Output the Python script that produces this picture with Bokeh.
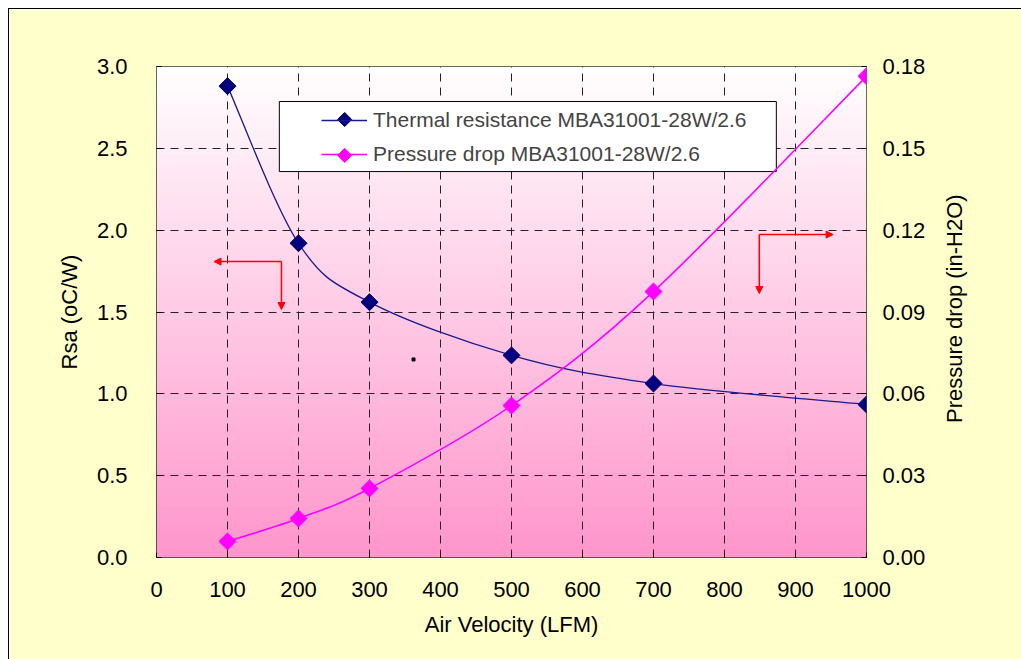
import math
import numpy as np
from bokeh.plotting import figure
from bokeh.models import (LinearAxis, Range1d, FixedTicker, Legend, LegendItem,
                          Arrow, NormalHead, ColumnDataSource, CustomJSTickFormatter)
from bokeh.embed import file_html
from bokeh.resources import INLINE

# ---- data ----
velocity = [100, 200, 300, 500, 700, 1000]
thermal_resistance = [2.88, 1.92, 1.56, 1.235, 1.063, 0.935]
pressure_drop = [0.0059, 0.0143, 0.0253, 0.0557, 0.0975, 0.1764]
x_ticks = [0, 100, 200, 300, 400, 500, 600, 700, 800, 900, 1000]
y_ticks = [0.0, 0.5, 1.0, 1.5, 2.0, 2.5, 3.0]
y2_ticks = [0.00, 0.03, 0.06, 0.09, 0.12, 0.15, 0.18]
label_thermal = "Thermal resistance MBA31001-28W/2.6"
label_pressure = "Pressure drop MBA31001-28W/2.6"
label_y2 = "Pressure drop (in-H2O)"
# annotation arrows (data coords of left axis): corner point, horizontal end, vertical end
arrow_left = dict(cx=176, cy=1.808, hx=81, vy=1.515)
arrow_right = dict(cx=849, cy=1.973, hx=953, vy=1.613)
stray_dot = (362, 1.21)
# legend box and legend key markers (data coords of left axis)
legend_box = dict(left=173, right=873, top=2.786, bottom=2.358)
legend_key_x = 265
legend_key_y = [2.676, 2.457]

FONT = "Liberation Sans"
Y2_MAX = 0.18
Y_MAX = 3.0


def bezier_segments(xs, ys):
    """Excel-like smoothed line as cubic bezier control points."""
    n = len(xs)
    P = list(zip(xs, ys))
    out = {k: [] for k in ["x0", "y0", "x1", "y1", "cx0", "cy0", "cx1", "cy1"]}
    for i in range(n - 1):
        pm = P[i - 1] if i > 0 else P[i]
        p0 = P[i]
        p1 = P[i + 1]
        pp = P[i + 2] if i + 2 < n else P[i + 1]
        c0 = (p0[0] + (p1[0] - pm[0]) / 6, p0[1] + (p1[1] - pm[1]) / 6)
        c1 = (p1[0] - (pp[0] - p0[0]) / 6, p1[1] - (pp[1] - p0[1]) / 6)
        out["x0"].append(p0[0]); out["y0"].append(p0[1])
        out["x1"].append(p1[0]); out["y1"].append(p1[1])
        out["cx0"].append(c0[0]); out["cy0"].append(c0[1])
        out["cx1"].append(c1[0]); out["cy1"].append(c1[1])
    return out


p = figure(width=1013, height=651, output_backend="svg", toolbar_location=None,
           x_range=Range1d(0, 1000), y_range=Range1d(0, Y_MAX),
           min_border_left=147, min_border_right=156, min_border_top=57,
           min_border_bottom=103)
p.styles = {"border-top": "1px solid black", "border-left": "1px solid black",
            "margin-left": "8px", "margin-top": "8px"}
p.border_fill_color = "#FFFFCC"
p.background_fill_color = "#FFFFFF"
p.outline_line_color = "#333333"
p.outline_line_width = 1

# gradient background
N = 256
t = np.linspace(0, 1, N)  # 0 at bottom
top = np.array([255, 255, 255])
bot = np.array([255, 150, 204])
cols = (bot[None, :] * (1 - t[:, None]) + top[None, :] * t[:, None]).astype(np.uint32)
img = np.zeros((N, 1), dtype=np.uint32)
view = img.view(dtype=np.uint8).reshape((N, 1, 4))
view[:, 0, 0] = cols[:, 0]
view[:, 0, 1] = cols[:, 1]
view[:, 0, 2] = cols[:, 2]
view[:, 0, 3] = 255
p.image_rgba(image=[img], x=0, y=0, dw=1000, dh=Y_MAX, level="image")

# axes
p.extra_y_ranges = {"y2": Range1d(0, Y2_MAX)}
ax2 = LinearAxis(y_range_name="y2")
p.add_layout(ax2, "right")

for ax in [p.xaxis[0], p.yaxis[0], ax2]:
    ax.major_tick_in = 5
    ax.major_tick_out = 0
    ax.minor_tick_line_color = None
    ax.major_label_text_font = FONT
    ax.major_label_text_font_size = "22px"
    ax.major_label_text_color = "black"
    ax.axis_label_text_font = FONT
    ax.axis_label_text_font_size = "22px"
    ax.axis_label_text_font_style = "normal"
    ax.axis_label_text_color = "black"
    ax.axis_line_color = None
    ax.major_tick_line_color = "black"

p.xaxis.ticker = FixedTicker(ticks=x_ticks)
p.yaxis[0].ticker = FixedTicker(ticks=y_ticks)
ax2.ticker = FixedTicker(ticks=y2_ticks)
p.xaxis.axis_label = "Air Velocity (LFM)"
p.yaxis[0].axis_label = "Rsa (oC/W)"
p.yaxis[0].formatter = CustomJSTickFormatter(code="return tick.toFixed(1);")
ax2.formatter = CustomJSTickFormatter(code="return tick.toFixed(2);")
p.xaxis.major_label_standoff = 24
p.yaxis[0].major_label_standoff = 29
ax2.major_label_standoff = 16
p.xaxis.axis_label_standoff = 12
p.yaxis[0].axis_label_standoff = 12

# right axis title (reads bottom-to-top), carried by a tick-less axis;
# the rotated label is start-anchored at the bottom, non-breaking spaces lift it to centre
ax2_title = LinearAxis(y_range_name="y2", axis_label="\u00a0" * 22 + label_y2,
                       ticker=FixedTicker(ticks=[]))
ax2_title.axis_label_orientation = math.pi / 2
ax2_title.axis_label_align = "start"
ax2_title.axis_label_text_font = FONT
ax2_title.axis_label_text_font_size = "22px"
ax2_title.axis_label_text_font_style = "normal"
ax2_title.axis_label_text_color = "black"
ax2_title.axis_line_color = None
ax2_title.major_tick_line_color = None
ax2_title.minor_tick_line_color = None
ax2_title.major_tick_in = 0
ax2_title.major_tick_out = 0
ax2_title.major_label_standoff = 0
ax2_title.axis_label_standoff = 26
p.add_layout(ax2_title, "right")

for g in [p.xgrid[0], p.ygrid[0]]:
    g.grid_line_color = "#222222"
    g.grid_line_dash = "8 6"
    g.grid_line_width = 1
p.xgrid.ticker = FixedTicker(ticks=x_ticks)
p.ygrid.ticker = FixedTicker(ticks=y_ticks)

# legend box
p.quad(left=[legend_box["left"]], right=[legend_box["right"]],
       top=[legend_box["top"]], bottom=[legend_box["bottom"]],
       fill_color="white", line_color="black", line_width=1)

# series
ts = ColumnDataSource(bezier_segments(velocity, thermal_resistance))
t_line = p.bezier(x0="x0", y0="y0", x1="x1", y1="y1", cx0="cx0", cy0="cy0",
                  cx1="cx1", cy1="cy1", source=ts, line_color="#1A1A8C", line_width=1.3)
t_pts = p.scatter(velocity, thermal_resistance, marker="square", angle=math.pi / 4,
                  size=12, fill_color="#000080", line_color="#000050", line_width=1)

ps = ColumnDataSource(bezier_segments(velocity, pressure_drop))
p_line = p.bezier(x0="x0", y0="y0", x1="x1", y1="y1", cx0="cx0", cy0="cy0",
                  cx1="cx1", cy1="cy1", source=ps, line_color="#FF00FF", line_width=1.6,
                  y_range_name="y2")
p_pts = p.scatter(velocity, pressure_drop, marker="square", angle=math.pi / 4,
                  size=12, fill_color="#FF00FF", line_color="#FF00FF", y_range_name="y2")

# arrows
for a in [arrow_left, arrow_right]:
    for (xe, ye) in [(a["hx"], a["cy"]), (a["cx"], a["vy"])]:
        p.add_layout(Arrow(end=NormalHead(size=7, fill_color="red", line_color="red"),
                           x_start=a["cx"], y_start=a["cy"], x_end=xe, y_end=ye,
                           line_color="red", line_width=1.5))

p.scatter([stray_dot[0]], [stray_dot[1]], marker="square", size=3, fill_color="black",
          line_color="black")

legend = Legend(items=[LegendItem(label=label_thermal, renderers=[t_line]),
                       LegendItem(label=label_pressure, renderers=[p_line])],
                location=(165, 391))
legend.label_text_font = FONT
legend.label_text_font_size = "21px"
legend.border_line_color = None
legend.background_fill_alpha = 0
legend.glyph_width = 46
legend.glyph_height = 24
legend.label_height = 24
legend.label_standoff = 6
legend.padding = 0
legend.spacing = 10
legend.margin = 0
p.add_layout(legend, "center")

# legend key diamonds drawn above the legend lines
p.scatter([legend_key_x, legend_key_x], legend_key_y, marker="square", angle=math.pi / 4,
          size=10, fill_color=["#000080", "#FF00FF"], line_color=["#000050", "#FF00FF"],
          level="overlay")

open("out.html", "w").write(file_html(p, INLINE))
